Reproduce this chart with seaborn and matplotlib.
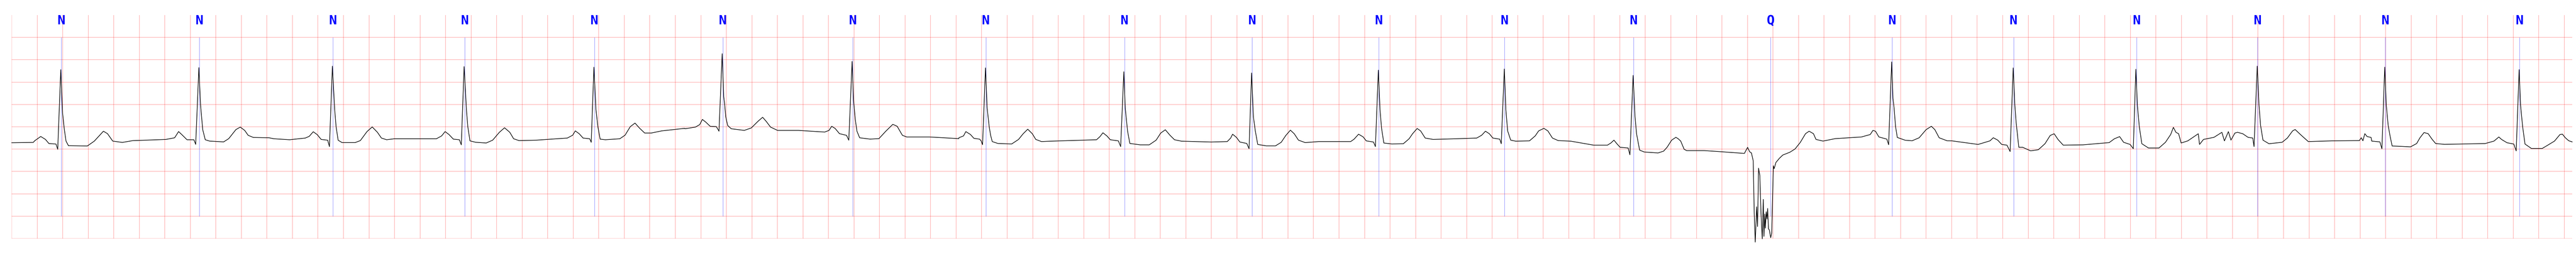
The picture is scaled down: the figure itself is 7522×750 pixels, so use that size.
import numpy as np
import pandas as pd
import matplotlib
matplotlib.use("Agg")
import matplotlib.pyplot as plt
import seaborn as sns

# ---------------- data (time in s, amplitude in mV) ----------------
ann_time = [0.389, 1.470, 2.517, 3.550, 4.566, 5.572, 6.590, 7.633, 8.719, 9.718,
            10.711, 11.696, 12.707, 13.780, 14.733, 15.685, 16.650, 17.596, 18.598, 19.650]
ann_symbol = ["N", "N", "N", "N", "N", "N", "N", "N", "N", "N",
              "N", "N", "N", "Q", "N", "N", "N", "N", "N", "N"]

trace_t = [
    0.000, 0.169, 0.182, 0.228, 0.265, 0.292, 0.347, 0.361, 0.385, 0.399, 0.413, 0.426, 0.445, 0.593,
    0.648, 0.719, 0.751, 0.792, 0.867, 0.949, 1.209, 1.277, 1.308, 1.339, 1.374, 1.428, 1.442, 1.467,
    1.480, 1.497, 1.517, 1.551, 1.661, 1.701, 1.757, 1.791, 1.826, 1.853, 1.894, 2.017,
    2.055, 2.178, 2.301, 2.332, 2.363, 2.394, 2.425, 2.476, 2.490, 2.513, 2.531, 2.542, 2.558, 2.589,
    2.691, 2.732, 2.784, 2.825, 2.866, 2.897, 2.938, 2.999, 3.328, 3.369, 3.396, 3.426, 3.461, 3.508,
    3.523, 3.545, 3.564, 3.574, 3.591, 3.636, 3.718, 3.769, 3.821, 3.862, 3.903, 3.933, 3.975, 4.108,
    4.354, 4.396, 4.416, 4.447, 4.477, 4.529, 4.541, 4.562, 4.578, 4.593, 4.611, 4.652, 4.765, 4.806,
    4.847, 4.884, 4.919, 4.960, 5.011, 5.093, 5.274,
    5.275, 5.357, 5.391, 5.412, 5.439, 5.473, 5.521, 5.535, 5.542, 5.567, 5.579, 5.587, 5.595, 5.610,
    5.638, 5.740, 5.795, 5.850, 5.884, 5.912, 5.946, 6.001, 6.165, 6.370, 6.404, 6.425, 6.452, 6.486,
    6.541, 6.559, 6.585, 6.596, 6.610, 6.623, 6.644, 6.726, 6.795, 6.849, 6.904, 6.938, 6.979, 7.013,
    7.191, 7.421,
    7.422, 7.458, 7.476, 7.512, 7.539, 7.584, 7.596, 7.607, 7.630, 7.643, 7.659, 7.670, 7.683, 7.727,
    7.835, 7.889, 7.925, 7.961, 7.997, 8.024, 8.069, 8.141, 8.500, 8.527, 8.550, 8.581, 8.608, 8.671,
    8.689, 8.714, 8.725, 8.743, 8.761, 8.842, 8.913, 8.967, 9.003, 9.039, 9.075, 9.111, 9.165, 9.399,
    9.524, 9.551, 9.566, 9.596, 9.623, 9.677, 9.695, 9.715, 9.729, 9.744, 9.763, 9.830, 9.902, 9.947,
    9.983, 10.019, 10.049, 10.082, 10.135, 10.240,
    10.491, 10.518, 10.553, 10.589, 10.613, 10.670, 10.685, 10.708, 10.721, 10.733, 10.751, 10.814,
    10.904, 10.949, 10.976, 11.012, 11.039, 11.075, 11.137, 11.317, 11.479, 11.518, 11.547, 11.578,
    11.605, 11.659, 11.671, 11.695, 11.707, 11.721, 11.745, 11.784, 11.892, 11.937, 11.964, 12.005,
    12.036, 12.072, 12.117, 12.216, 12.395, 12.503, 12.530, 12.554, 12.575, 12.602, 12.665, 12.679,
    12.704, 12.719, 12.731, 12.755, 12.791, 12.899, 12.943, 12.970, 13.006, 13.039,
    13.056, 13.077, 13.104, 13.124, 13.261, 13.398, 13.576, 13.601, 13.617, 13.631, 13.645, 13.653,
    13.661, 13.672, 13.679, 13.687, 13.697, 13.706, 13.716, 13.724, 13.729, 13.736, 13.740, 13.747,
    13.753, 13.758, 13.765, 13.771, 13.782, 13.790, 13.797, 13.803, 13.809, 13.823, 13.850, 13.877,
    13.932, 13.973, 14.014, 14.055, 14.083, 14.117, 14.137, 14.192, 14.288, 14.493, 14.562, 14.583,
    14.603, 14.630, 14.692, 14.706, 14.730, 14.740, 14.749, 14.760, 14.774, 14.836, 14.890, 14.945,
    15.000, 15.041, 15.068, 15.102, 15.164,
    15.202, 15.407, 15.500, 15.526, 15.561, 15.592, 15.633, 15.658, 15.682, 15.695, 15.705, 15.726,
    15.756, 15.818, 15.879, 15.931, 15.972, 16.003, 16.033, 16.074, 16.229, 16.434, 16.475, 16.516,
    16.547, 16.598, 16.623, 16.643, 16.655, 16.670, 16.690, 16.742, 16.824, 16.875, 16.916, 16.937,
    16.957, 16.978, 16.998, 17.050, 17.132, 17.142, 17.173, 17.255, 17.317, 17.337, 17.368, 17.388,
    17.419, 17.440, 17.481, 17.522, 17.559, 17.569, 17.594, 17.608, 17.620, 17.639, 17.686, 17.789,
    17.830, 17.871, 17.891, 17.932, 17.994, 18.179, 18.394, 18.409,
    18.422, 18.437, 18.454, 18.486, 18.491, 18.555, 18.571, 18.593, 18.605, 18.620, 18.635, 18.651,
    18.720, 18.795, 18.843, 18.869, 18.901, 18.933, 18.965, 18.992, 19.061, 19.380, 19.449, 19.487,
    19.508, 19.551, 19.604, 19.623, 19.646, 19.657, 19.673, 19.692, 19.742, 19.827, 19.870, 19.923,
    19.966, 19.985, 20.008, 20.035, 20.062,
]

trace_mv = [
    -0.357, -0.350, -0.310, -0.217, -0.283, -0.375, -0.386, -0.504, 1.279, 0.305, -0.063, -0.320, -0.423, -0.430,
    -0.320, -0.099, -0.154, -0.320, -0.350, -0.310, -0.283, -0.246, -0.107, -0.191, -0.290, -0.290, -0.393, 1.324,
    0.489, -0.063, -0.290, -0.320, -0.338, -0.265, -0.063, -0.007, -0.081, -0.191, -0.239, -0.246,
    -0.268, -0.290, -0.252, -0.213, -0.111, -0.175, -0.283, -0.300, -0.443, 1.357, 0.385, 0.003, -0.300, -0.354,
    -0.354, -0.309, -0.108, -0.003, -0.124, -0.252, -0.290, -0.268, -0.268, -0.204, -0.108, -0.172, -0.277, -0.290,
    -0.404, 1.347, 0.353, 0.003, -0.315, -0.347, -0.363, -0.299, -0.124, -0.022, -0.124, -0.268, -0.309, -0.300,
    -0.252, -0.188, -0.092, -0.156, -0.252, -0.268, -0.347, 1.334, 0.385, 0.003, -0.277, -0.290, -0.268, -0.188,
    0.003, 0.083, -0.029, -0.140, -0.140, -0.092, -0.035,
    -0.044, -0.007, 0.048, 0.165, 0.103, 0.011, 0.004, -0.063, -0.099, 1.636, 0.673, 0.489, 0.224, 0.029,
    -0.044, -0.081, -0.026, 0.129, 0.213, 0.121, -0.007, -0.081, -0.081, -0.118, -0.081, 0.011, -0.037, -0.154,
    -0.191, -0.301, 1.463, 0.599, 0.158, -0.099, -0.246, -0.276, -0.265, -0.099, 0.055, 0.011, -0.191, -0.228,
    -0.228, -0.265,
    -0.245, -0.204, -0.108, -0.172, -0.258, -0.277, -0.315, -0.401, 1.318, 0.417, 0.003, -0.188, -0.331, -0.373,
    -0.385, -0.283, -0.156, -0.054, -0.156, -0.283, -0.331, -0.322, -0.290, -0.220, -0.134, -0.204, -0.290, -0.315,
    -0.443, 1.232, 0.417, -0.092, -0.373, -0.404, -0.404, -0.299, -0.140, -0.067, -0.188, -0.290, -0.322, -0.341,
    -0.331, -0.252, -0.166, -0.236, -0.341, -0.373, -0.490, 1.204, 0.226, -0.092, -0.395, -0.427, -0.427, -0.347,
    -0.194, -0.076, -0.156, -0.299, -0.354, -0.331,
    -0.331, -0.277, -0.166, -0.226, -0.315, -0.341, -0.443, 1.268, 0.385, -0.029, -0.363, -0.385,
    -0.379, -0.268, -0.156, -0.038, -0.092, -0.252, -0.283, -0.268, -0.252, -0.188, -0.099, -0.156,
    -0.252, -0.277, -0.379, 1.293, 0.385, -0.092, -0.299, -0.322, -0.315, -0.204, -0.092, -0.035,
    -0.092, -0.252, -0.309, -0.322, -0.411, -0.411, -0.363, -0.299, -0.373, -0.459, -0.475, -0.627,
    1.150, 0.226, -0.156, -0.522, -0.564, -0.586, -0.545, -0.459, -0.299, -0.236,
    -0.265, -0.320, -0.504, -0.533, -0.533, -0.559, -0.596, -0.460, -0.559, -0.585, -0.761, -1.938,
    -2.581, -1.790, -2.232, -0.926, -1.092, -1.938, -2.507, -1.625, -2.452, -1.952, -2.268, -1.901,
    -2.066, -1.827, -2.287, -2.305, -2.482, -2.379, -1.570, -0.871, -0.938, -0.798, -0.706, -0.632,
    -0.570, -0.496, -0.349, -0.154, -0.099, -0.154, -0.283, -0.320, -0.265, -0.228, -0.173, -0.081,
    -0.099, -0.228, -0.276, -0.401, 1.452, 0.636, 0.415, 0.011, -0.239, -0.301, -0.313, -0.246,
    -0.063, 0.011, -0.063, -0.246, -0.313,
    -0.315, -0.395, -0.315, -0.245, -0.299, -0.395, -0.411, -0.554, 1.318, 0.481, 0.099, -0.459,
    -0.459, -0.538, -0.513, -0.379, -0.194, -0.156, -0.283, -0.411, -0.404, -0.354, -0.268, -0.220,
    -0.347, -0.395, -0.490, 1.287, 0.481, 0.003, -0.379, -0.475, -0.475, -0.347, -0.172, -0.013,
    -0.124, -0.156, -0.363, -0.315, -0.156, -0.395, -0.283, -0.236, -0.124, -0.315, -0.108, -0.299,
    -0.140, -0.124, -0.156, -0.236, -0.252, -0.443, 1.357, 0.481, 0.035, -0.299, -0.379, -0.347,
    -0.252, -0.092, -0.061, -0.172, -0.331, -0.315, -0.309, -0.245,
    -0.313, -0.154, -0.217, -0.239, -0.320, -0.338, -0.493, 1.335, 0.489, 0.029, -0.210, -0.430,
    -0.438, -0.449, -0.375, -0.246, -0.129, -0.154, -0.283, -0.375, -0.393, -0.375, -0.320, -0.228,
    -0.283, -0.357, -0.386, -0.540, 1.279, 0.489, 0.011, -0.386, -0.485, -0.485, -0.412, -0.320,
    -0.173, -0.165, -0.246, -0.313, -0.338,
]

grid_x = np.arange(0.0, 20.0001, 0.2)
grid_y = np.arange(-2.5, 2.0001, 0.5)

# ---------------- figure ----------------
sns.set_style("white")
plt.rcParams["font.family"] = ["DejaVu Sans Mono", "DejaVu Sans"]

fig = plt.figure(figsize=(75.22, 7.5), dpi=100)
ax = fig.add_axes([34 / 7522, 54 / 750, 7477 / 7522, 652 / 750])

df = pd.DataFrame({"t": trace_t, "mv": trace_mv})
sns.lineplot(data=df, x="t", y="mv", ax=ax, color="black", linewidth=1.3,
             sort=False, estimator=None, clip_on=False, zorder=3)

ax.vlines(ann_time, -2.0, 2.0, colors="blue", linewidth=0.8, alpha=0.5, zorder=2)
for t, s in zip(ann_time, ann_symbol):
    ax.text(t, 2.29, s, ha="center", va="baseline", fontsize=27.6,
            fontweight="bold", color="blue", family=["DejaVu Sans Mono", "DejaVu Sans"])

ax.set_xlim(0, 20.062)
ax.set_ylim(-2.5, 2.5)
ax.set_xticks(grid_x)
ax.set_yticks(grid_y)
ax.grid(True, color="red", alpha=0.27, linewidth=1.3)
ax.tick_params(length=0, labelbottom=False, labelleft=False)
ax.set_xlabel("")
ax.set_ylabel("")
for sp in ax.spines.values():
    sp.set_visible(False)

fig.savefig("out.png", dpi=100, facecolor="white")
